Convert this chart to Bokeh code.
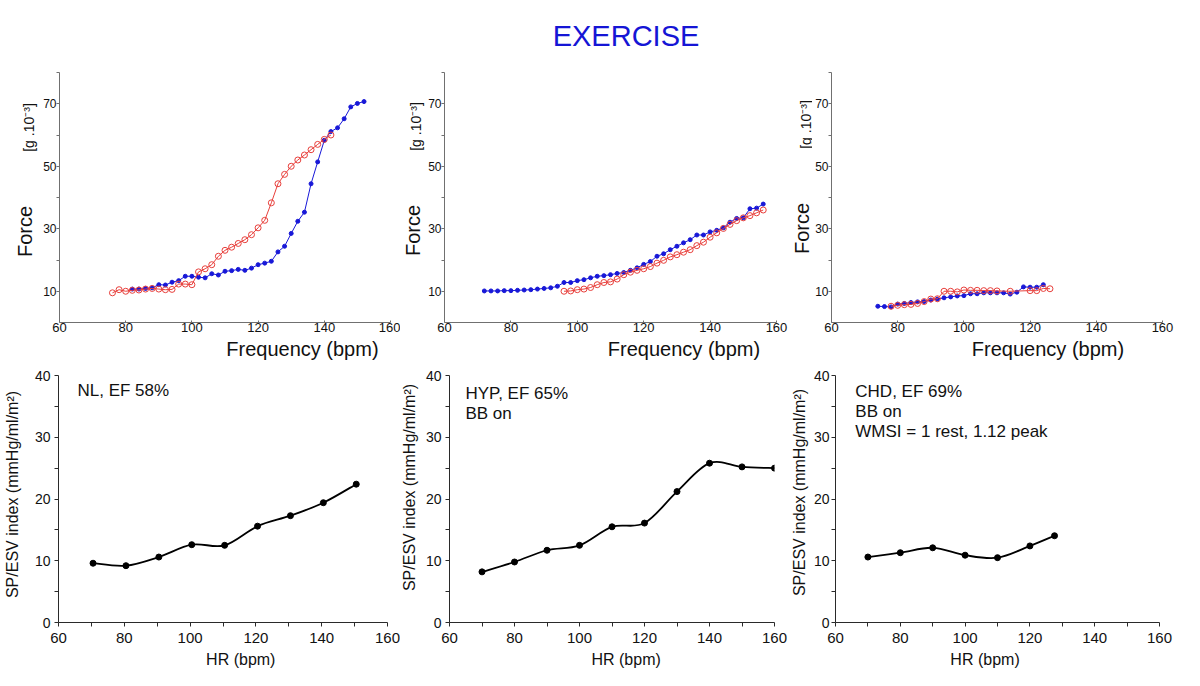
import math
from bokeh.plotting import figure
from bokeh.models import Range1d, FixedTicker, Label
from bokeh.layouts import column, row
from bokeh.embed import file_html
from bokeh.resources import INLINE

FONT = "Liberation Sans"

# ---------------- data ----------------
# Top row: Force [g.10^-3] versus Frequency (bpm)
nl_blue_hr = [82, 84, 86, 88, 90, 92, 94, 96, 98, 100, 102, 104, 106, 108, 110, 112, 114, 116,
              118, 120, 122, 124, 126, 128, 130, 132, 134, 136, 138, 140, 142, 144, 146, 148, 150, 152]
nl_blue_force = [10.7, 10.7, 10.9, 11.1, 12.1, 12.0, 12.9, 13.4, 14.8, 14.8, 14.5, 14.3, 15.6, 15.2,
                 16.4, 16.6, 17.0, 16.7, 17.4, 18.5, 19.0, 19.6, 22.6, 24.4, 28.5, 32.4, 35.3, 44.4,
                 51.4, 58.3, 61.1, 62.3, 65.2, 69.0, 70.1, 70.7]
nl_red_hr = [76, 78, 80, 82, 84, 86, 88, 90, 92, 94, 96, 98, 100, 102, 104, 106, 108, 110, 112, 114,
             116, 118, 120, 122, 124, 126, 128, 130, 132, 134, 136, 138, 140, 142]
nl_red_force = [9.5, 10.5, 10.0, 10.3, 10.4, 10.7, 10.9, 10.7, 10.5, 10.6, 12.3, 12.3, 12.1, 16.2,
                17.2, 18.5, 21.2, 23.1, 24.1, 25.3, 26.5, 28.1, 30.3, 32.7, 38.3, 44.4, 47.4, 50.0,
                52.0, 53.6, 55.3, 57.0, 58.6, 60.0]

hyp_blue_hr = [72, 74, 76, 78, 80, 82, 84, 86, 88, 90, 92, 94, 96, 98, 100, 102, 104, 106, 108, 110,
               112, 114, 116, 118, 120, 122, 124, 126, 128, 130, 132, 134, 136, 138, 140, 142, 144,
               146, 148, 150, 152, 154, 156]
hyp_blue_force = [10.1, 10.1, 10.1, 10.2, 10.2, 10.3, 10.4, 10.5, 10.7, 10.9, 11.1, 11.6, 12.8, 12.8,
                  13.4, 13.7, 14.3, 14.8, 15.0, 15.3, 15.7, 16.0, 16.7, 17.5, 18.6, 19.5, 21.2, 22.0,
                  23.3, 24.4, 25.5, 26.5, 28.0, 28.0, 29.0, 29.5, 30.3, 32.1, 33.3, 33.5, 36.4, 36.6,
                  37.9]
hyp_red_hr = [96, 98, 100, 102, 104, 106, 108, 110, 112, 114, 116, 118, 120, 122, 124, 126, 128, 130,
              132, 134, 136, 138, 140, 142, 144, 146, 148, 150, 152, 154, 156]
hyp_red_force = [10.0, 10.1, 10.5, 10.7, 11.2, 12.1, 12.8, 13.0, 13.9, 15.3, 16.1, 16.7, 17.2, 17.9,
                 19.0, 19.9, 21.0, 21.7, 22.5, 23.3, 24.6, 25.7, 27.3, 28.7, 30.1, 31.4, 32.6, 33.5,
                 34.2, 35.1, 36.0]

chd_blue_hr = [74, 76, 78, 80, 82, 84, 86, 88, 90, 92, 94, 96, 98, 100, 102, 104, 106, 108, 110, 112,
               114, 116, 118, 120, 122, 124]
chd_blue_force = [5.2, 5.1, 5.0, 5.9, 6.1, 6.4, 6.6, 6.7, 7.2, 7.5, 7.9, 8.2, 8.5, 8.6, 9.2, 9.2, 9.5,
                  9.5, 9.5, 9.5, 9.1, 9.7, 11.4, 11.3, 11.3, 12.1]
chd_red_hr = [78, 80, 82, 84, 86, 88, 90, 92, 94, 96, 98, 100, 102, 104, 106, 108, 110, 114, 120, 122,
              124, 126]
chd_red_force = [5.2, 5.5, 5.7, 5.8, 6.1, 6.7, 7.5, 7.6, 10.0, 10.0, 9.8, 10.4, 10.3, 10.3, 10.2,
                 10.2, 10.1, 10.0, 10.2, 10.2, 10.9, 10.8]

# Bottom row: SP/ESV index (mmHg/ml/m2) versus HR (bpm)
nl_hr = [70.5, 80.5, 90.5, 100.5, 110.5, 120.5, 130.5, 140.5, 150.5]
nl_spesv = [9.6, 9.2, 10.6, 12.6, 12.5, 15.6, 17.3, 19.4, 22.4]
hyp_hr = [70, 80, 90, 100, 110, 120, 130, 140, 150, 160]
hyp_spesv = [8.2, 9.8, 11.7, 12.5, 15.5, 16.1, 21.2, 25.8, 25.2, 25.0]
chd_hr = [70, 80, 90, 100, 110, 120, 127.6]
chd_spesv = [10.6, 11.3, 12.1, 10.9, 10.5, 12.4, 14.05]

title_text = "EXERCISE"
force_label = "Force"
unit_label = "[g .10\u207b\u00b3]"
freq_label = "Frequency (bpm)"
index_label = "SP/ESV index (mmHg/ml/m\u00b2)"
hr_label = "HR (bpm)"
notes_nl = ["NL, EF 58%"]
notes_hyp = ["HYP, EF 65%", "BB on"]
notes_chd = ["CHD, EF 69%", "BB on", "WMSI = 1 rest, 1.12 peak"]

top_x_ticks = [60, 80, 100, 120, 140, 160]
top_y_ticks = [10, 30, 50, 70]
top_y_minor = [20, 40, 60, 80]
bot_x_ticks = [60, 80, 100, 120, 140, 160]
bot_x_minor = [70, 90, 110, 130, 150]
bot_y_ticks = [0, 10, 20, 30, 40]
bot_y_minor = [5, 15, 25, 35]

BLUE = "#1818d8"
RED = "#e8403c"
TITLE_BLUE = "#1515d5"
TXT = "#111111"


def to_data(px, py, frame, xr, yr):
    fl, ft, fw, fh = frame
    x = xr[0] + (px - fl) / fw * (xr[1] - xr[0])
    y = yr[1] - (py - ft) / fh * (yr[1] - yr[0])
    return x, y


def text_fig(width, height):
    """A blank figure whose data units are its own pixels (y upwards)."""
    p = figure(width=width, height=height, x_range=Range1d(0, width), y_range=Range1d(0, height),
               output_backend="svg", toolbar_location=None, min_border=0,
               x_axis_location=None, y_axis_location=None)
    p.grid.visible = False
    p.outline_line_color = None
    p.background_fill_color = "white"
    p.border_fill_color = "white"
    return p


def add_text(p, x, y, text, size, angle=0.0, align="center", color=TXT):
    p.add_layout(Label(x=x, y=y, text=text, angle=angle, text_align=align,
                       text_baseline="middle", text_font=FONT, text_font_size=size,
                       text_color=color))


def base_fig(width, height, left, right, top, bottom, xr, yr):
    p = figure(width=width, height=height, x_range=Range1d(*xr), y_range=Range1d(*yr),
               output_backend="svg", toolbar_location=None,
               min_border_left=left, min_border_right=right,
               min_border_top=top, min_border_bottom=bottom)
    p.xgrid.visible = False
    p.ygrid.visible = False
    p.outline_line_color = None
    p.background_fill_color = "white"
    p.border_fill_color = "white"
    return p


def style_axes(p, axcol, xt, xm, yt, ym, xfs, yfs, tick_out_x, tick_out_y, sx, sy, tick_in_x=0):
    xa = p.xaxis[0]
    ya = p.yaxis[0]
    xa.ticker = FixedTicker(ticks=xt, minor_ticks=xm)
    ya.ticker = FixedTicker(ticks=yt, minor_ticks=ym)
    for a in (xa, ya):
        a.axis_line_color = axcol
        a.major_tick_line_color = axcol
        a.minor_tick_line_color = axcol
        a.major_tick_in = 0
        a.minor_tick_in = 0
        a.major_label_text_font = FONT
        a.major_label_text_color = TXT
    xa.major_tick_out = tick_out_x
    xa.minor_tick_out = tick_out_x
    xa.major_tick_in = tick_in_x
    ya.major_tick_out = tick_out_y
    ya.minor_tick_out = tick_out_y
    xa.major_label_text_font_size = xfs
    ya.major_label_text_font_size = yfs
    xa.major_label_standoff = sx
    ya.major_label_standoff = sy


def top_panel(lab_w, main_w, left, right, bx, by, rx, ry, force_xy, unit_xy, freq_x):
    H, main_h = 304, 277          # page y 60..364, main figure 60..337
    lab = text_fig(lab_w, H)
    add_text(lab, force_xy[0], force_xy[1], force_label, "20px", angle=math.pi / 2)
    add_text(lab, unit_xy[0], unit_xy[1], unit_label, "14px", angle=math.pi / 2)

    p = base_fig(main_w, main_h, left, right, 12, main_h - 12 - 250, (60, 160), (0, 80))
    style_axes(p, "#707070", top_x_ticks, [], top_y_ticks, top_y_minor,
               "13px", "12px", 0, 3, 0, 0, tick_in_x=2)
    p.line(bx, by, line_color=BLUE, line_width=1)
    p.scatter(bx, by, marker="circle", size=4, fill_color=BLUE, line_color=BLUE)
    p.line(rx, ry, line_color=RED, line_width=1)
    p.scatter(rx, ry, marker="circle", size=6, fill_color=None, line_color=RED, line_width=1)

    fq = text_fig(main_w, H - main_h)       # page y 337..364
    add_text(fq, freq_x, 15.3, freq_label, "20px", align="right")
    return row(lab, column(p, fq))


def bezier_segments(xs, ys):
    n = len(xs)
    seg = dict(x0=[], y0=[], x1=[], y1=[], cx0=[], cy0=[], cx1=[], cy1=[])
    for i in range(n - 1):
        xp, yp = (xs[i - 1], ys[i - 1]) if i > 0 else (xs[i], ys[i])
        xn, yn = (xs[i + 2], ys[i + 2]) if i + 2 < n else (xs[i + 1], ys[i + 1])
        seg["x0"].append(xs[i]); seg["y0"].append(ys[i])
        seg["x1"].append(xs[i + 1]); seg["y1"].append(ys[i + 1])
        seg["cx0"].append(xs[i] + (xs[i + 1] - xp) / 6.0)
        seg["cy0"].append(ys[i] + (ys[i + 1] - yp) / 6.0)
        seg["cx1"].append(xs[i + 1] - (xn - xs[i]) / 6.0)
        seg["cy1"].append(ys[i + 1] - (yn - ys[i]) / 6.0)
    return seg


def bottom_panel(lab_w, main_w, left, right, frame, hx, hy, notes, ylab_x, ylab_y, hr_x,
                 notes_px, y_standoff):
    H, main_h = 322, 286          # page y 364..686, main figure 364..650
    xr, yr = (60, 160), (0, 40)
    lab = text_fig(lab_w, H)
    add_text(lab, ylab_x, ylab_y, index_label, "16px", angle=math.pi / 2)

    p = base_fig(main_w, main_h, left, right, 11, main_h - 11 - 247, xr, yr)
    style_axes(p, "#2a2a2a", bot_x_ticks, bot_x_minor, bot_y_ticks, bot_y_minor,
               "15px", "14px", 4, 4, 6, y_standoff)
    seg = bezier_segments(hx, hy)
    p.bezier(x0=seg["x0"], y0=seg["y0"], x1=seg["x1"], y1=seg["y1"],
             cx0=seg["cx0"], cy0=seg["cy0"], cx1=seg["cx1"], cy1=seg["cy1"],
             line_color="black", line_width=1.8)
    p.scatter(hx, hy, marker="circle", size=6, fill_color="black", line_color="black")
    nx, ncy = notes_px
    for k, t in enumerate(notes):
        x, y = to_data(nx, ncy + 20 * k, frame, xr, yr)
        add_text(p, x, y, t, "17px", align="left")

    hr = text_fig(main_w, H - main_h)     # page y 650..686
    add_text(hr, hr_x, 26.6, hr_label, "16px", align="center")
    return row(lab, column(p, hr))


# ---------------- title (page y 0..60) ----------------
pt = text_fig(1200, 60)
add_text(pt, 625.5, 24.4, title_text, "29px", align="center", color=TITLE_BLUE)

# ---------------- top row (page y 60..364) ----------------
t1 = top_panel(40, 360, 18, 10, nl_blue_hr, nl_blue_force, nl_red_hr, nl_red_force,
               (24, 133), (28, 237), 347)
t2 = top_panel(25, 365, 19, 14, hyp_blue_hr, hyp_blue_force, hyp_red_hr, hyp_red_force,
               (12, 134), (15, 238), 347)
t3 = top_panel(22, 388, 17, 38, chd_blue_hr, chd_blue_force, chd_red_hr, chd_red_force,
               (11, 136), (15, 240), 343)

# ---------------- bottom row (page y 364..686) ----------------
# frames in page pixels (left, top, width, height)
B1 = (58, 375, 329, 247)
B2 = (447, 375, 327, 247)
B3 = (832, 375, 327, 247)
b1 = bottom_panel(30, 370, 28, 13, B1, nl_hr, nl_spesv, notes_nl, 12, 192, 205, (77, 390), 4)
b2 = bottom_panel(22, 368, 25, 16, B2, hyp_hr, hyp_spesv, notes_hyp, 9, 199, 200, (463, 393), 4)
b3 = bottom_panel(20, 390, 22, 41, B3, chd_hr, chd_spesv, notes_chd, 9, 194, 180, (852, 391), 2)

layout = column(pt, row(t1, t2, t3), row(b1, b2, b3))

open("out.html", "w").write(file_html(layout, INLINE))
